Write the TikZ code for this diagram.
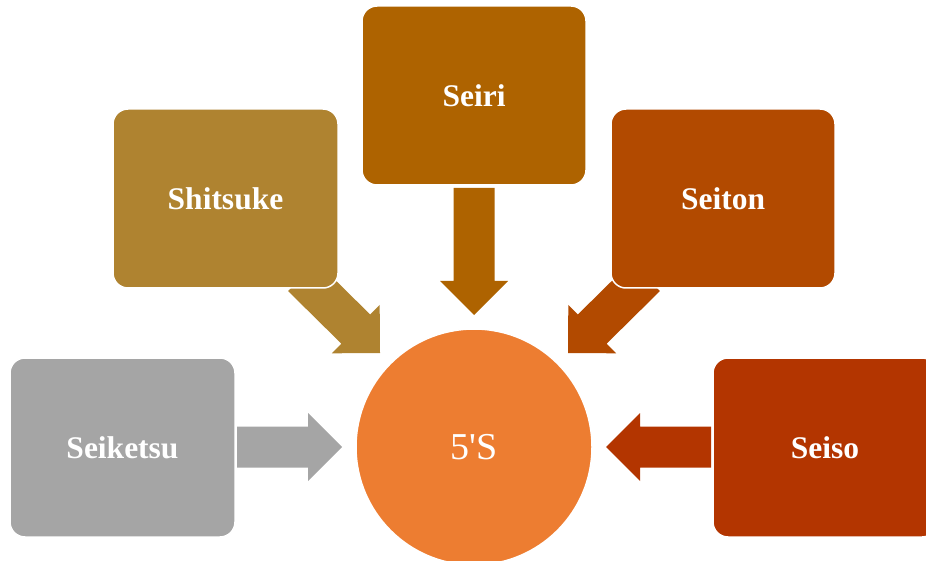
\documentclass[tikz,border=0pt]{standalone}
\usepackage{fontspec}
\setmainfont{Liberation Serif}
\newfontfamily\plainserif{Liberation Serif}[Ligatures=TeXOff]
\usetikzlibrary{calc}
\definecolor{cSeiri}{HTML}{AE6300}
\definecolor{cShitsuke}{HTML}{AF8330}
\definecolor{cSeiton}{HTML}{B24A00}
\definecolor{cSeiso}{HTML}{B33500}
\definecolor{cSeiketsu}{HTML}{A5A5A5}
\definecolor{cCore}{HTML}{ED7D31}
\newcommand\blockarr[3]{% #1 colour, #2 tail, #3 tip
  \coordinate (ba-h) at ($(#3)!34pt!(#2)$);
  \fill[#1] ($(#2)!20.5pt!90:(#3)$) -- ($(ba-h)!20.5pt!90:(#3)$) -- ($(ba-h)!34pt!90:(#3)$) -- (#3)
    -- ($(ba-h)!34pt!-90:(#3)$) -- ($(ba-h)!20.5pt!-90:(#3)$) -- ($(#2)!20.5pt!-90:(#3)$) -- cycle;
}
\begin{document}
\begin{tikzpicture}[x=1pt,y=-1pt,
  sbox/.style={rectangle, rounded corners=15pt, draw=white, line width=1.5pt,
    minimum width=224pt, minimum height=179pt, inner sep=0pt, text=white,
    font=\fontsize{31.5}{36}\selectfont\bfseries},
  core/.style={circle, draw=white, line width=1.5pt, fill=cCore, minimum size=236pt,
    inner sep=0pt, text=white, font=\plainserif\fontsize{38}{44}\selectfont}]
\useasboundingbox (0,0) rectangle (926,561);
\clip (0,0) rectangle (926,561);
% coordinates for arrow ends
\coordinate (a1t) at (474,188);   \coordinate (a1h) at (474,315);
\coordinate (a2t) at (302.5,276.5); \coordinate (a2h) at (380,353);
\coordinate (a3t) at (645.5,276.5); \coordinate (a3h) at (568,353);
\coordinate (a4t) at (237,447);   \coordinate (a4h) at (342,447);
\coordinate (a5t) at (711,447);   \coordinate (a5h) at (606,447);
% arrows (behind boxes)
\blockarr{cSeiri}{a1t}{a1h}
\blockarr{cShitsuke}{a2t}{a2h}
\blockarr{cSeiton}{a3t}{a3h}
\blockarr{cSeiketsu}{a4t}{a4h}
\blockarr{cSeiso}{a5t}{a5h}
% boxes
\node[sbox, fill=cSeiri] (seiri) at (474,95.5) {Seiri};
\node[sbox, fill=cShitsuke, minimum width=225pt] (shitsuke) at (225.5,198.5) {Shitsuke};
\node[sbox, fill=cSeiton] (seiton) at (723,198.5) {Seiton};
\node[sbox, fill=cSeiketsu, minimum width=225pt] (seiketsu) at (122.5,447.5) {Seiketsu};
\node[sbox, fill=cSeiso] (seiso) at (825,447.5) {Seiso};
\node[core] (core) at (474,447) {5'S};
\end{tikzpicture}
\end{document}
